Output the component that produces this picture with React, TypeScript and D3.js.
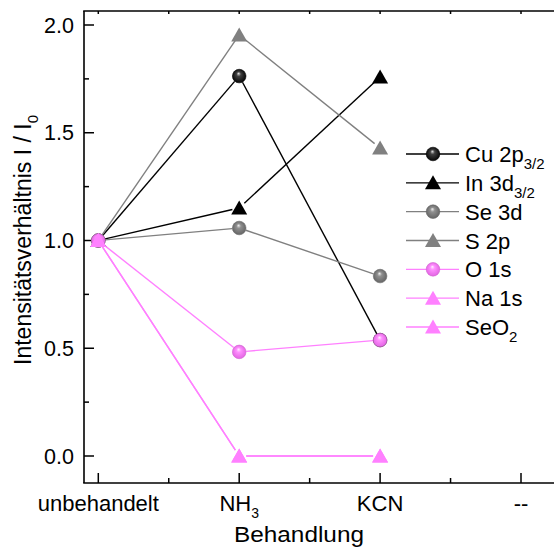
import React from "react";
import * as d3 from "d3";

// treatments on the x axis (index = position)
const categories = ["unbehandelt", "NH3", "KCN", "--"];

// intensity ratios I / I0 per treatment (unbehandelt, NH3, KCN)
const cu2p = [1.0, 1.763, 0.538];
const in3d = [1.0, 1.151, 1.759];
const se3d = [1.0, 1.058, 0.835];
const s2p = [1.0, 1.954, 1.429];
const o1s = [1.0, 0.483, 0.538];
const na1s = [1.0, 0.0, 0.0];
const seo2 = [1.0, 0.0, 0.0];

const yTicks = [0, 0.5, 1.0, 1.5, 2.0];
const yMinor = [0.25, 0.75, 1.25, 1.75];

const BLACK = "#000000";
const GRAY = "#808080";
const PINK = "#ff80ff";

const series = [
  { name: "Cu 2p", sub: "3/2", values: cu2p, color: BLACK, shape: "ball", grad: "gBlack" },
  { name: "In 3d", sub: "3/2", values: in3d, color: BLACK, shape: "tri" },
  { name: "Se 3d", sub: "", values: se3d, color: GRAY, shape: "ball", grad: "gGray" },
  { name: "S 2p", sub: "", values: s2p, color: GRAY, shape: "tri" },
  { name: "O 1s", sub: "", values: o1s, color: PINK, shape: "ball", grad: "gPink" },
  { name: "Na 1s", sub: "", values: na1s, color: PINK, shape: "tri" },
  { name: "SeO", sub: "2", values: seo2, color: PINK, shape: "tri" },
];

const W = 554;
const H = 547;
const FONT = "'Liberation Sans', Arial, Helvetica, sans-serif";

const left = 84, top = 11, bottom = 483, right = 560;

const x = d3.scaleLinear().domain([0, 3]).range([98.3, 521]);
const y = d3.scaleLinear().domain([0, 2]).range([456, 25]);

const triPath = "M0,-7.5L8,6.5L-8,6.5Z";

function Marker({ s, cx, cy }) {
  if (s.shape === "ball") {
    return <circle cx={cx} cy={cy} r={6.8} fill={`url(#${s.grad})`} stroke={d3.color(s.color).darker(0.6)} strokeWidth={0.6} />;
  }
  return <path d={triPath} transform={`translate(${cx},${cy})`} fill={s.color} />;
}

// segment shortened at both ends so the line stops short of the symbols
function seg(x1, y1, x2, y2, gap) {
  const dx = x2 - x1, dy = y2 - y1;
  const len = Math.sqrt(dx * dx + dy * dy);
  const ux = dx / len, uy = dy / len;
  return [x1 + ux * gap, y1 + uy * gap, x2 - ux * gap, y2 - uy * gap];
}

export default function App() {
  const fmt = d3.format(".1f");
  const xMajor = d3.range(categories.length);
  const xMinor = xMajor.slice(0, -1).map((d) => d + 0.5);
  const legY = d3.scaleLinear().domain([0, 6]).range([154, 327]);

  return (
    <svg width={W} height={H} style={{ position: "absolute", left: 0, top: 0, background: "#fff" }} fontFamily={FONT}>
      <defs>
        <radialGradient id="gBlack" cx="0.5" cy="0.5" r="0.55" fx="0.45" fy="0.3">
          <stop offset="0" stopColor="#e0e0e0" />
          <stop offset="0.3" stopColor="#404040" />
          <stop offset="1" stopColor="#000" />
        </radialGradient>
        <radialGradient id="gGray" cx="0.5" cy="0.5" r="0.55" fx="0.45" fy="0.3">
          <stop offset="0" stopColor="#f0f0f0" />
          <stop offset="0.3" stopColor="#909090" />
          <stop offset="1" stopColor="#606060" />
        </radialGradient>
        <radialGradient id="gPink" cx="0.5" cy="0.5" r="0.55" fx="0.45" fy="0.3">
          <stop offset="0" stopColor="#fff0ff" />
          <stop offset="0.3" stopColor="#ff90ff" />
          <stop offset="1" stopColor="#e060e0" />
        </radialGradient>
      </defs>

      {/* frame */}
      <g stroke="#000" strokeWidth={1.6} fill="none">
        <line x1={left} y1={top} x2={left} y2={bottom} />
        <line x1={left - 0.8} y1={bottom} x2={right} y2={bottom} />
        <line x1={left - 0.8} y1={top} x2={right} y2={top} />
      </g>

      {/* ticks (inward) */}
      <g stroke="#000" strokeWidth={1.5}>
        {yTicks.map((t) => <line key={"ym" + t} x1={left} x2={left + 10} y1={y(t)} y2={y(t)} />)}
        {yMinor.map((t) => <line key={"yn" + t} x1={left} x2={left + 5} y1={y(t)} y2={y(t)} />)}
        {xMajor.map((t) => <line key={"xm" + t} x1={x(t)} x2={x(t)} y1={bottom} y2={bottom - 10} />)}
        {xMinor.map((t) => <line key={"xn" + t} x1={x(t)} x2={x(t)} y1={bottom} y2={bottom - 5} />)}
        {xMajor.concat(xMinor).map((t) => <line key={"xt" + t} x1={x(t)} x2={x(t)} y1={top} y2={top + 3} />)}
      </g>

      {/* y tick labels */}
      {yTicks.map((t) => (
        <text key={"yl" + t} x={74} y={y(t) + 7.5} fontSize={21.5} textAnchor="end">{fmt(t)}</text>
      ))}

      {/* x tick labels */}
      {categories.map((c, i) => (
        <text key={"xl" + c} x={x(i)} y={511} fontSize={22} textAnchor="middle">
          {c === "NH3" ? (<>NH<tspan fontSize={14} dy={7}>3</tspan></>) : c}
        </text>
      ))}

      {/* axis titles */}
      <text x={299} y={541.5} fontSize={22} textAnchor="middle" textLength={130} lengthAdjust="spacingAndGlyphs">Behandlung</text>
      <text transform={`translate(30.5,240) rotate(-90)`} fontSize={23} textAnchor="middle">
        Intensitätsverhältnis I / I<tspan fontSize={15} dy={7}>0</tspan>
      </text>

      {/* lines */}
      {series.map((s) => (
        <g key={"ln" + s.name + s.sub} stroke={s.color} strokeWidth={1.4}>
          {s.values.slice(1).map((v, i) => {
            const [a, b, c, d] = seg(x(i), y(s.values[i]), x(i + 1), y(v), 7);
            return <line key={i} x1={a} y1={b} x2={c} y2={d} />;
          })}
        </g>
      ))}

      {/* markers */}
      {series.map((s) => (
        <g key={"mk" + s.name + s.sub}>
          {s.values.map((v, i) => <Marker key={i} s={s} cx={x(i)} cy={y(v)} />)}
        </g>
      ))}

      {/* legend */}
      {series.map((s, i) => {
        const ly = legY(i);
        return (
          <g key={"lg" + s.name + s.sub}>
            <line x1={406} x2={459} y1={ly} y2={ly} stroke={s.color} strokeWidth={1.4} />
            <Marker s={s} cx={433} cy={ly} />
            <text x={465} y={ly + 8} fontSize={22}>
              {s.name}
              {s.sub ? <tspan fontSize={15} dy={7}>{s.sub}</tspan> : null}
            </text>
          </g>
        );
      })}
    </svg>
  );
}
